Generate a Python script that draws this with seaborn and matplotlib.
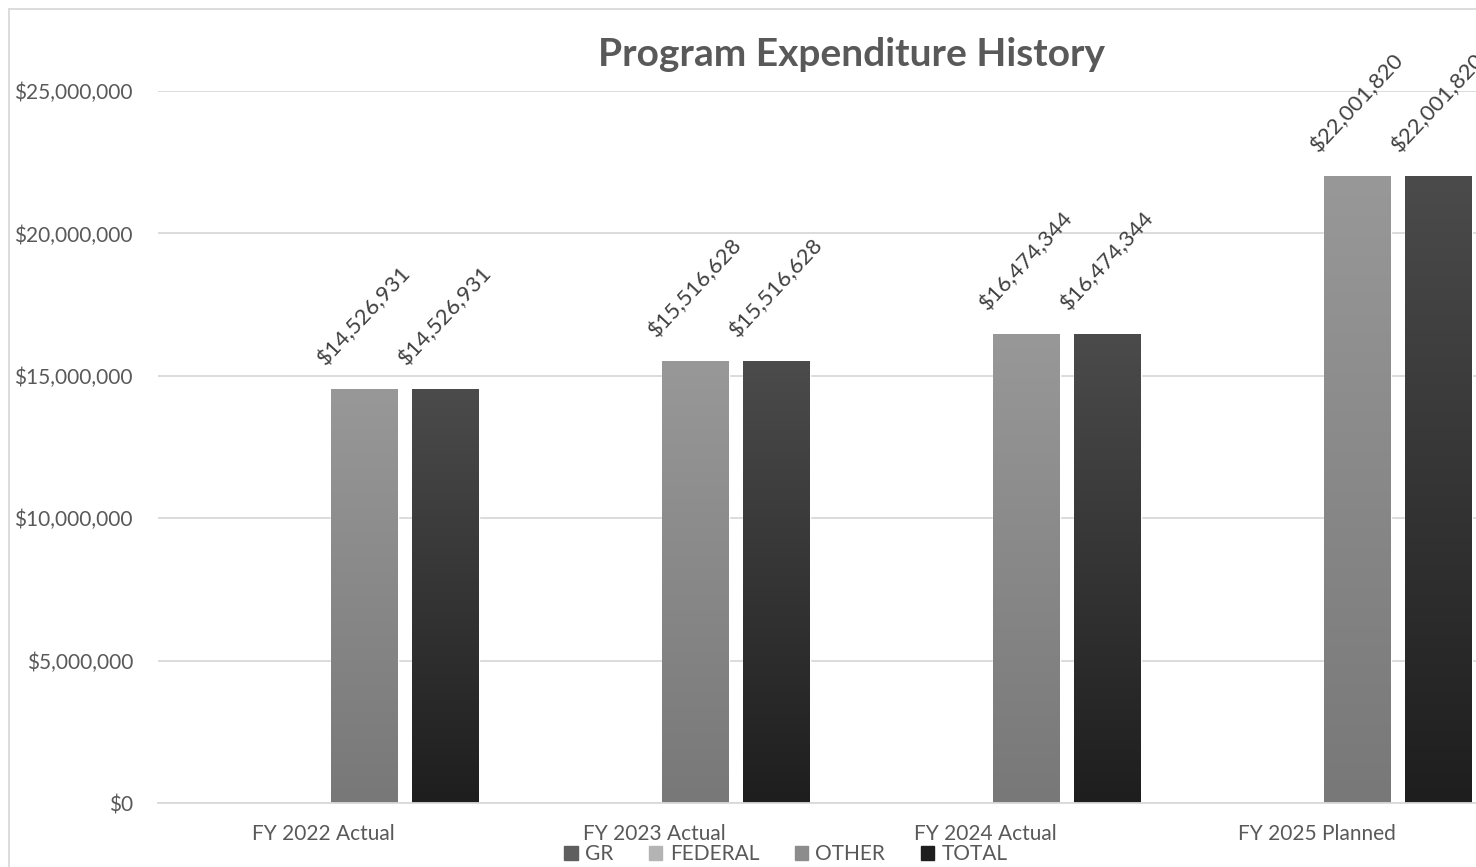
import pandas as pd
import numpy as np
import matplotlib
matplotlib.use("Agg")
import matplotlib.pyplot as plt
from matplotlib.colors import LinearSegmentedColormap
from matplotlib.patches import Rectangle
import matplotlib.ticker as mticker
import seaborn as sns

# chart data
years = ["FY 2022 Actual", "FY 2023 Actual", "FY 2024 Actual", "FY 2025 Planned"]
series = ["GR", "FEDERAL", "OTHER", "TOTAL"]
gr = [0, 0, 0, 0]
federal = [0, 0, 0, 0]
other = [14526931, 15516628, 16474344, 22001820]
total = [14526931, 15516628, 16474344, 22001820]

df = pd.DataFrame({"Year": years * 4,
                   "Fund": [s for s in series for _ in years],
                   "Amount": gr + federal + other + total})

# solid colours for legend, gradient (top, bottom) for the bars
palette = {"GR": "#5f5f5f", "FEDERAL": "#b4b4b4", "OTHER": "#8c8c8c", "TOTAL": "#1e1e1e"}
grads = {"GR": ("#6a6a6a", "#454545"), "FEDERAL": ("#c4c4c4", "#a5a5a5"),
         "OTHER": ("#989898", "#787878"), "TOTAL": ("#4b4b4b", "#1e1e1e")}

sns.set_style("white")
plt.rcParams["font.family"] = ["Lato", "DejaVu Sans"]

fig = plt.figure(figsize=(14.76, 8.67), dpi=100)
ax = fig.add_axes([158 / 1476, 1 - 803 / 867, (1482 - 158) / 1476, (803 - 91) / 867])

sns.barplot(data=df, x="Year", y="Amount", hue="Fund", hue_order=series,
            palette=palette, width=0.985, gap=0.18, saturation=1, ax=ax)

ax.set_ylim(0, 25000000)
ax.set_xlim(-0.5, 3.5)
xl, yl = ax.get_xlim(), ax.get_ylim()

# gradient fill + data labels
for name, cont in zip(series, ax.containers):
    cmap = LinearSegmentedColormap.from_list(name, [grads[name][1], grads[name][0]])
    for bar in cont:
        h = bar.get_height()
        if h <= 0:
            continue
        x0 = bar.get_x()
        w = bar.get_width()
        im = ax.imshow(np.linspace(0, 1, 256).reshape(-1, 1), cmap=cmap, origin="lower",
                       extent=[x0, x0 + w, 0, h], aspect="auto", zorder=bar.get_zorder() + 0.1)
        im.set_clip_path(bar)
        ax.annotate(f"${h:,.0f}", (x0 + w / 2, h), xytext=(0, 53), textcoords="offset points",
                    ha="center", va="center", rotation=47, fontsize=16, color="#404040",
                    annotation_clip=False)

ax.set_xlim(xl)
ax.set_ylim(yl)

ax.yaxis.set_major_locator(mticker.MultipleLocator(5000000))
ax.yaxis.set_major_formatter(mticker.FuncFormatter(lambda v, p: f"${v:,.0f}"))
ax.grid(axis="y", color="#d9d9d9", linewidth=1.3)
ax.set_axisbelow(True)

for s in ["top", "right", "left"]:
    ax.spines[s].set_visible(False)
ax.spines["bottom"].set_color("#d9d9d9")
ax.spines["bottom"].set_linewidth(1.3)

ax.set_xticks([-0.5, 0.5, 1.5, 2.5], minor=True)
ax.tick_params(axis="x", which="minor", length=6, color="#d9d9d9", width=1.3)
ax.tick_params(axis="x", which="major", length=0, pad=15, labelsize=15, labelcolor="#595959")
ax.tick_params(axis="y", length=0, pad=18, labelsize=15, labelcolor="#595959")
ax.set_xlabel("")
ax.set_ylabel("")

ax.legend_.remove()
handles = [Rectangle((0, 0), 1, 1, color=palette[s]) for s in series]
fig.legend(handles, series, loc="center", bbox_to_anchor=(786 / 1476, 1 - 854 / 867),
           ncol=4, frameon=False, fontsize=15, handlelength=0.65, handleheight=0.65,
           handletextpad=0.35, columnspacing=1.7, labelcolor="#595959")

fig.text(852 / 1476, 1 - 54 / 867, "Program Expenditure History", ha="center", va="center",
         fontsize=28, fontweight="bold", color="#595959")

# chart border
fig.patches.append(Rectangle((9 / 1476, -0.01), 1.1, 1 - 9 / 867 + 0.01, transform=fig.transFigure,
                             fill=False, edgecolor="#d9d9d9", linewidth=1.3))

fig.savefig("out.png", dpi=100)
